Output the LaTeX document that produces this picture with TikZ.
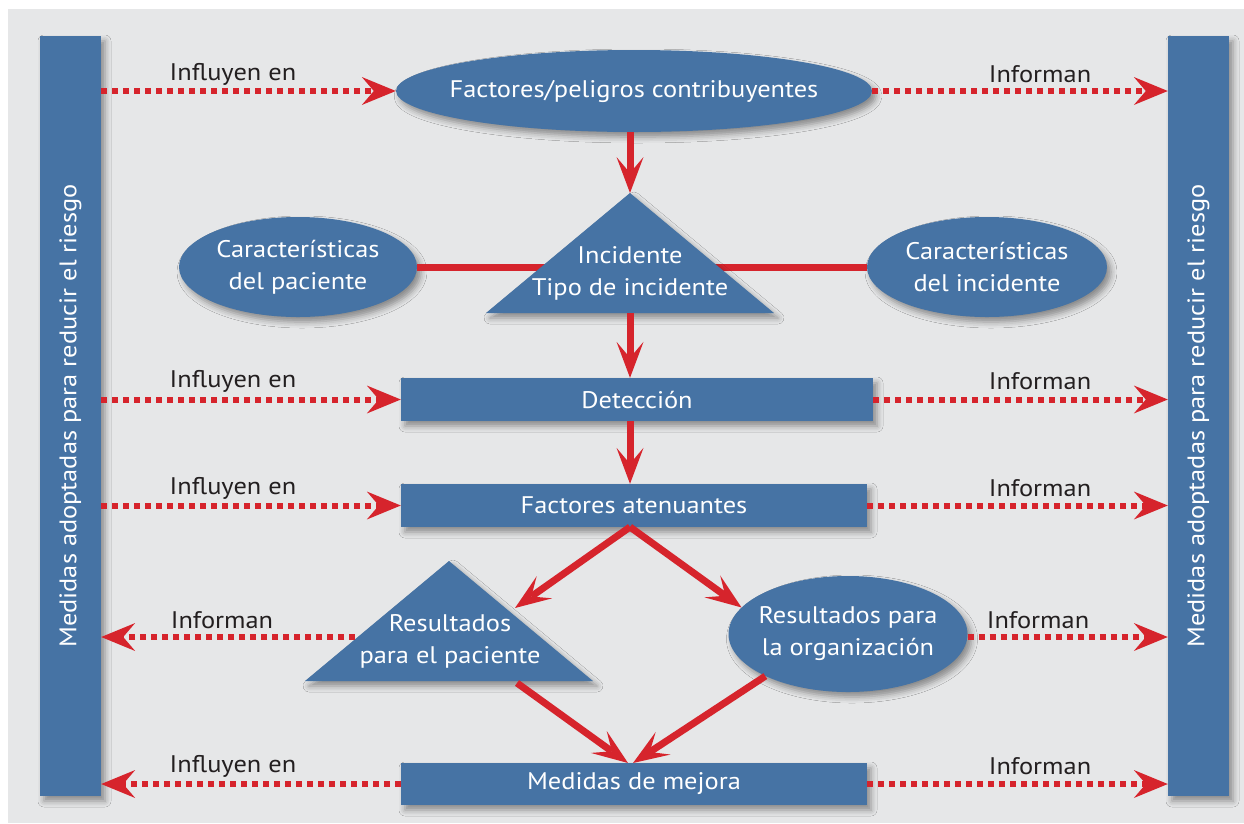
\documentclass[tikz,border=0pt]{standalone}
\usepackage{fontspec}
\setmainfont{PT Sans}[FakeStretch=1.1]
\usetikzlibrary{shapes.geometric,arrows.meta,shadows.blur}
\definecolor{bgg}{HTML}{E6E7E8}
\definecolor{bblue}{HTML}{4673A4}
\definecolor{rred}{HTML}{D6242C}
\definecolor{tgray}{HTML}{231F20}
\begin{document}
\begin{tikzpicture}[x=1pt,y=-1pt,
  shad/.style={blur shadow={shadow xshift=4pt,shadow yshift=-5pt,shadow blur radius=6pt,shadow opacity=40}},
  box/.style={fill=bblue,draw=none,text=white,inner sep=0pt,font=\fontsize{24}{32}\selectfont,align=center,shad},
  ell/.style={box,ellipse},
  wtext/.style={text=white,font=\fontsize{24}{32}\selectfont,align=center,inner sep=0pt},
  lbl/.style={text=tgray,font=\fontsize{24}{28}\selectfont,inner sep=0pt},
  flow/.style={draw=rred,line width=7pt,-{Stealth[length=36pt,width=27pt,inset=16pt,line width=0pt,fill=rred]}},
  plain/.style={draw=rred,line width=7pt},
  dotarrow/.style={draw=rred,line width=6pt,dash pattern=on 6pt off 5pt,-{Stealth[length=34pt,width=28pt,inset=12pt,line width=0pt,fill=rred]}},
  bartext/.style={text=white,font=\fontsize{24}{28}\selectfont,rotate=90,inner sep=0pt}
]
\useasboundingbox (0,0) rectangle (1244,823);
\fill[white] (0,0) rectangle (1244,823);
\fill[bgg] (8,9) rectangle (1244,823);

% side bars
\node[box,minimum width=61pt,minimum height=760pt] (lbar) at (70.5,416) {};
\node[bartext] (ltext) at (lbar.center) {Medidas adoptadas para reducir el riesgo};
\node[box,minimum width=61pt,minimum height=760pt] (rbar) at (1198.5,416) {};
\node[bartext] (rtext) at (rbar.center) {Medidas adoptadas para reducir el riesgo};

% top ellipse
\node[ell,minimum width=476pt,minimum height=82pt] (top) at (634,91) {};
\node[wtext] (toptext) at (top.center) {Factores/peligros contribuyentes};

% side ellipses
\node[ell,minimum width=238pt,minimum height=100pt] (lell) at (298,267) {};
\node[wtext] (lelltext) at (lell.center) {Características\\del paciente};
\node[ell,minimum width=240pt,minimum height=100pt] (rell) at (987,267) {};
\node[wtext] (relltext) at (rell.center) {Características\\del incidente};
\draw[plain] (lell.east) -- (rell.west);

% incident triangle
\coordinate (t1apex) at (630,193);
\coordinate (t1base) at (630,313);
\fill[bblue,shad] (t1apex) -- (774,313) -- (486,313) -- cycle;
\node[wtext] (t1text) at (630,273) {Incidente\\Tipo de incidente};

% rectangles
\node[box,minimum width=472pt,minimum height=43pt] (det) at (637,399.5) {Detección};
\node[box,minimum width=466pt,minimum height=43pt] (fat) at (634,505.5) {Factores atenuantes};
\node[box,minimum width=466pt,minimum height=42pt] (mej) at (634,784) {Medidas de mejora};

% result triangle
\coordinate (t2apex) at (449,561);
\fill[bblue,shad] (t2apex) -- (593,681) -- (305,681) -- cycle;
\node[wtext] (t2text) at (450,641) {Resultados\\para el paciente};
\coordinate (t2in) at (515,608);
\coordinate (t2out) at (517,683);
\coordinate (t2left) at (355,637);

% organisation ellipse
\node[ell,minimum width=239pt,minimum height=116pt] (org) at (848,634) {};
\node[wtext] (orgtext) at (org.center) {Resultados para\\la organización};

% flow arrows
\coordinate (fatb) at (630,527);
\coordinate (mejt1) at (628,763);
\coordinate (mejt2) at (633,763);
\draw[flow] (top.south -| t1apex) -- (t1apex);
\draw[flow] (t1base) -- (t1base |- det.north);
\draw[flow] (t1base |- det.south) -- (t1base |- fat.north);
\draw[flow] (fatb) -- (t2in);
\draw[flow] (fatb) -- (org.166);
\draw[flow] (t2out) -- (mejt1);
\draw[flow] (org.207) -- (mejt2);

% dotted arrows
\draw[dotarrow] (lbar.east |- top.west) -- (top.west);
\draw[dotarrow] (top.east) -- (rbar.west |- top.east);
\draw[dotarrow] (lbar.east |- det.west) -- (det.west);
\draw[dotarrow] (det.east) -- (rbar.west |- det.east);
\draw[dotarrow] (lbar.east |- fat.west) -- (fat.west);
\draw[dotarrow] (fat.east) -- (rbar.west |- fat.east);
\draw[dotarrow] (t2left) -- (lbar.east |- t2left);
\draw[dotarrow] (org.east |- t2left) -- (rbar.west |- t2left);
\draw[dotarrow] (mej.west) -- (lbar.east |- mej.west);
\draw[dotarrow] (mej.east) -- (rbar.west |- mej.east);

% labels
\node[lbl] (l1) at (233,74) {Influyen en};
\node[lbl] (r1) at (1040,74) {Informan};
\node[lbl] (l2) at (233,381) {Influyen en};
\node[lbl] (r2) at (1040,381) {Informan};
\node[lbl] (l3) at (233,488) {Influyen en};
\node[lbl] (r3) at (1040,488) {Informan};
\node[lbl] (l4) at (222,620) {Informan};
\node[lbl] (r4) at (1038,620) {Informan};
\node[lbl] (l5) at (233,766) {Influyen en};
\node[lbl] (r5) at (1040,766) {Informan};
\end{tikzpicture}
\end{document}
